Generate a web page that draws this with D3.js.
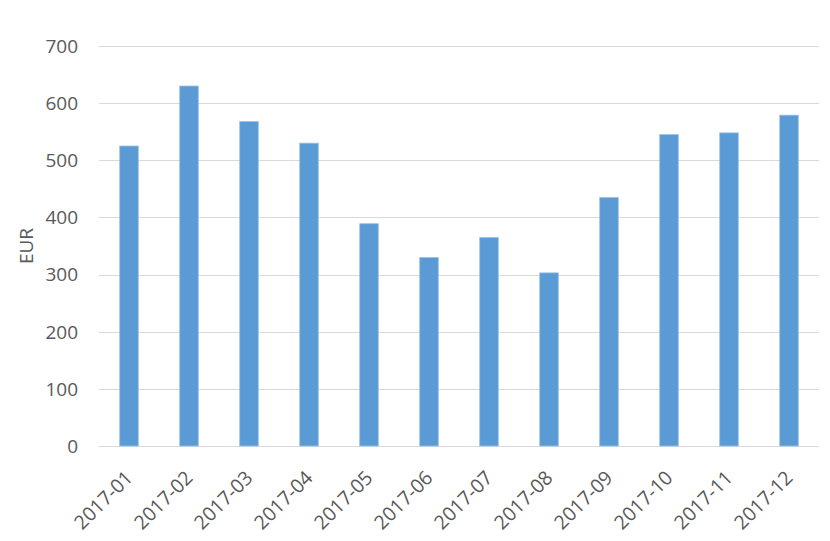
<!DOCTYPE html>
<html>
<head>
<meta charset="utf-8">
<script src="https://cdn.jsdelivr.net/npm/d3@7"></script>
<style>
  body { margin: 0; background: #fff; }
  svg { display: block; }
</style>
</head>
<body>
<svg id="chart"></svg>
<script>
const months = ["2017-01", "2017-02", "2017-03", "2017-04", "2017-05", "2017-06",
                "2017-07", "2017-08", "2017-09", "2017-10", "2017-11", "2017-12"];
const values = [525, 630, 568, 530, 389, 330, 365, 303, 435, 545, 548, 579];
const yTicks = [0, 100, 200, 300, 400, 500, 600, 700];

const width = 830, height = 541;
const margin = { top: 46, right: 11, bottom: 95, left: 99 };

const svg = d3.select("#chart")
  .attr("width", width)
  .attr("height", height)
  .style("font-family", "'Open Sans', sans-serif");

const x = d3.scaleBand()
  .domain(months)
  .range([margin.left, width - margin.right])
  .paddingInner(0.69)
  .paddingOuter(0.345);

const y = d3.scaleLinear()
  .domain([0, 700])
  .range([height - margin.bottom, margin.top]);

// gridlines
svg.append("g")
  .selectAll("line")
  .data(yTicks)
  .join("line")
    .attr("x1", margin.left)
    .attr("x2", width - margin.right)
    .attr("y1", d => Math.round(y(d)) + 0.5)
    .attr("y2", d => Math.round(y(d)) + 0.5)
    .attr("stroke", "#d9d9d9")
    .attr("stroke-width", 1);

// y tick labels
svg.append("g")
  .selectAll("text")
  .data(yTicks)
  .join("text")
    .attr("x", 78)
    .attr("y", d => y(d))
    .attr("dy", "0.36em")
    .attr("text-anchor", "end")
    .attr("font-size", 19)
    .attr("fill", "#595959")
    .text(d => d);

// bars
svg.append("g")
  .selectAll("rect")
  .data(values)
  .join("rect")
    .attr("x", (d, i) => x(months[i]))
    .attr("y", d => y(d))
    .attr("width", x.bandwidth())
    .attr("height", d => y(0) - y(d))
    .attr("fill", "#5b9bd5")
    .attr("stroke", "#9cc3e8")
    .attr("stroke-width", 0.8);

// x labels
svg.append("g")
  .selectAll("text")
  .data(months)
  .join("text")
    .attr("transform", d => `translate(${x(d) + x.bandwidth() / 2 + 5},${y(0) + 33}) rotate(-45)`)
    .attr("text-anchor", "end")
    .attr("font-size", 19.5)
    .attr("fill", "#595959")
    .text(d => d);

// y axis title
svg.append("text")
  .attr("transform", `translate(33,${(y(0) + y(700)) / 2}) rotate(-90)`)
  .attr("text-anchor", "middle")
  .attr("font-size", 19)
  .attr("fill", "#595959")
  .text("EUR");
</script>
</body>
</html>
